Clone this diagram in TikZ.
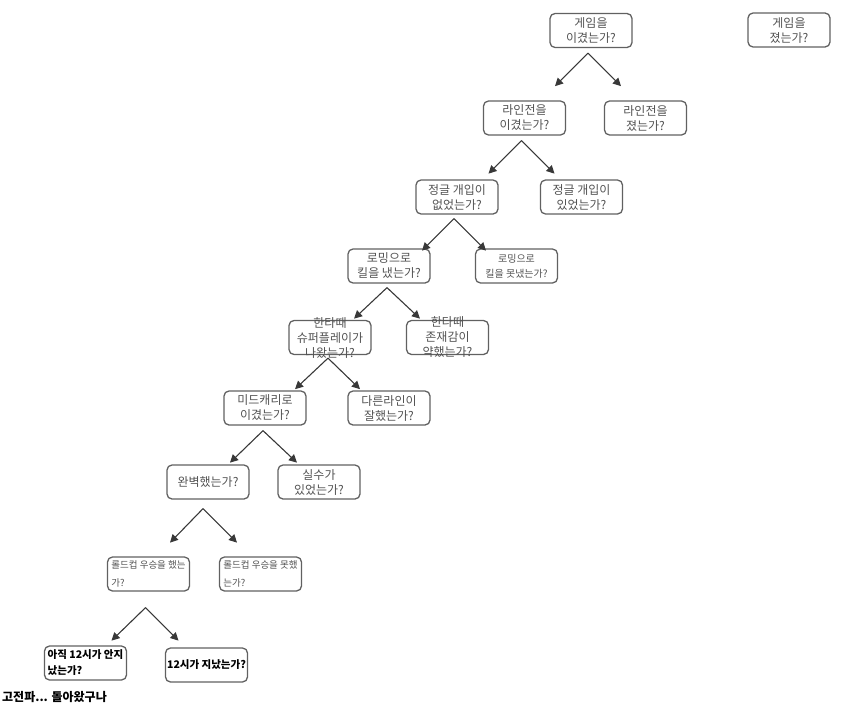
\documentclass[tikz,border=0pt]{standalone}
\usepackage{fontspec}
\setmainfont{Noto Sans CJK KR}
\usetikzlibrary{arrows.meta}

\begin{document}
\begin{tikzpicture}[
    x=1pt, y=-1pt,
    >={Triangle[length=8pt,width=8pt]},
    line cap=round,
    line join=round,
    q/.style={draw=black!62, line width=1.3pt, rounded corners=5pt,
      minimum width=82pt, minimum height=34pt, inner sep=1pt,
      align=center, text=black!68, font=\fontsize{12}{15}\selectfont},
    qsmall/.style={q, align=left, font=\fontsize{9.5}{18}\selectfont},
    qbold/.style={q, align=left, text=black, font=\bfseries\fontsize{10.5}{16}\selectfont},
    arr/.style={->, draw=black!78, line width=1.1pt}
]

% page frame (keeps the margins)
\useasboundingbox (0,0) rectangle (850,709);

% Top: the game
\node[q] (win)  at (591,30.5) {게임을\\이겼는가?};
\node[q] (lose) at (789,30)   {게임을\\졌는가?};

% Lane phase
\node[q] (lanewin)  at (524.5,118) {라인전을\\이겼는가?};
\node[q] (lanelose) at (645.5,118) {라인전을\\졌는가?};

% Jungle
\node[q] (nojungle) at (457,197)   {정글 개입이\\없었는가?};
\node[q] (jungle)   at (581.5,197) {정글 개입이\\있었는가?};

% Roaming
\node[q] (roamkill)   at (389,266)   {로밍으로\\킬을 냈는가?};
\node[q, font=\fontsize{10}{15}\selectfont]
    (roamnokill) at (516.5,266) {로밍으로\\킬을 못냈는가?};

% Teamfights (text runs over the box)
\node[q, inner ysep=-6pt] (superplay) at (330,337.5) {한타때\\슈퍼플레이가\\나왔는가?};
\node[q, inner ysep=-6pt] (weakfight) at (447.5,337.5) {한타때\\존재감이\\약했는가?};

% Carry
\node[q] (midcarry)  at (265,408) {미드캐리로\\이겼는가?};
\node[q] (otherlane) at (389,408) {다른라인이\\잘했는가?};

% Perfect or not
\node[q] (perfect) at (208,482) {완벽했는가?};
\node[q] (mistake) at (319,482) {실수가\\있었는가?};

% Worlds
\node[qsmall] (worldswin)  at (148.5,574) {롤드컵 우승을 했는\\가?};
\node[qsmall] (worldslose) at (260.5,574) {롤드컵 우승을 못했\\는가?};

% Midnight
\node[qbold] (notyet) at (85.5,663) {아직 12시가 안지\\났는가?};
\node[qbold] (past)   at (206.5,665) {12시가 지났는가?};

% Caption
\node[anchor=west, inner sep=0pt, font=\bfseries\fontsize{12}{14}\selectfont]
    (caption) at (2,697) {고전파... 돌아왔구나};

% Forks under each left question
\draw[arr] ([shift={(-3,5)}]win.south) -- +(-33,33);
\draw[arr] ([shift={(-3,5)}]win.south) -- +(33,33);

\draw[arr] ([shift={(-3,5)}]lanewin.south) -- +(-33,33);
\draw[arr] ([shift={(-3,5)}]lanewin.south) -- +(33,33);

\draw[arr] ([shift={(-3,4)}]nojungle.south) -- +(-32,32);
\draw[arr] ([shift={(-3,4)}]nojungle.south) -- +(32,32);

\draw[arr] ([shift={(-2,4)}]roamkill.south) -- +(-33,31);
\draw[arr] ([shift={(-2,4)}]roamkill.south) -- +(33,31);

\draw[arr] ([shift={(-2,3)}]superplay.south) -- +(-33,31);
\draw[arr] ([shift={(-2,3)}]superplay.south) -- +(32,31);

\draw[arr] ([shift={(-2,5)}]midcarry.south) -- +(-33,32);
\draw[arr] ([shift={(-2,5)}]midcarry.south) -- +(34,32);

\draw[arr] ([shift={(-5,9)}]perfect.south) -- +(-33,34);
\draw[arr] ([shift={(-5,9)}]perfect.south) -- +(34,34);

\draw[arr] ([shift={(-3,16)}]worldswin.south) -- +(-34,33);
\draw[arr] ([shift={(-3,16)}]worldswin.south) -- +(33,33);

\end{tikzpicture}
\end{document}
